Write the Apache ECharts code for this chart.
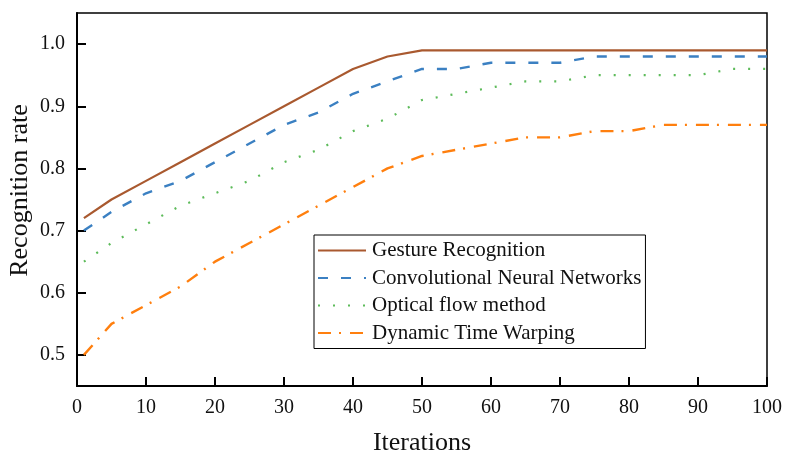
<!DOCTYPE html>
<html>
<head>
<meta charset="utf-8">
<script src="https://cdn.jsdelivr.net/npm/echarts@6/dist/echarts.min.js"></script>
<style>html,body{margin:0;padding:0;background:#fff;}#c{width:785px;height:460px;}</style>
</head>
<body>
<div id="c"></div>
<script>
var iterations = [1, 5, 10, 15, 20, 25, 30, 35, 40, 45, 50, 55, 60, 65, 70, 75, 80, 85, 90, 95, 100];
var gestureRecognition = [0.72, 0.75, 0.78, 0.81, 0.84, 0.87, 0.90, 0.93, 0.96, 0.98, 0.99, 0.99, 0.99, 0.99, 0.99, 0.99, 0.99, 0.99, 0.99, 0.99, 0.99];
var cnn = [0.70, 0.73, 0.76, 0.78, 0.81, 0.84, 0.87, 0.89, 0.92, 0.94, 0.96, 0.96, 0.97, 0.97, 0.97, 0.98, 0.98, 0.98, 0.98, 0.98, 0.98];
var opticalFlow = [0.65, 0.68, 0.71, 0.74, 0.76, 0.78, 0.81, 0.83, 0.86, 0.88, 0.91, 0.92, 0.93, 0.94, 0.94, 0.95, 0.95, 0.95, 0.95, 0.96, 0.96];
var dtw = [0.50, 0.55, 0.58, 0.61, 0.65, 0.68, 0.71, 0.74, 0.77, 0.80, 0.82, 0.83, 0.84, 0.85, 0.85, 0.86, 0.86, 0.87, 0.87, 0.87, 0.87];
var seriesNames = ['Gesture Recognition', 'Convolutional Neural Networks', 'Optical flow method', 'Dynamic Time Warping'];
var yTickValues = [0.5, 0.6, 0.7, 0.8, 0.9, 1.0];
var xAxisTitle = 'Iterations';
var yAxisTitle = 'Recognition rate';

function pairs(ys) { return iterations.map(function (x, i) { return [x, ys[i]]; }); }

var FONT = 'Liberation Serif';
var chart = echarts.init(document.getElementById('c'), null, { renderer: 'canvas' });
var colors = ['#A9592F', '#3B80C2', '#5DBB5A', '#FF7F0E'];
var dashTypes = ['solid', [10, 13], [2, 13], [13, 8, 2, 9]];
var widths = [2.2, 2.4, 2.2, 2.4];
var datas = [gestureRecognition, cnn, opticalFlow, dtw];

chart.setOption({
  animation: false,
  backgroundColor: '#fff',
  grid: { left: 77, right: 18, top: 13, bottom: 74, show: true, borderColor: '#000', borderWidth: 1.5, backgroundColor: 'transparent', outerBoundsMode: 'none', containLabel: false },
  legend: {
    data: seriesNames,
    orient: 'vertical',
    left: 314, top: 235,
    width: 335,
    padding: [5, 4, 5, 3],
    itemGap: 6.5,
    itemWidth: 48, itemHeight: 14,
    itemStyle: { opacity: 0 },
    borderColor: '#000', borderWidth: 1,
    textStyle: { fontFamily: FONT, fontSize: 21, color: '#111', lineHeight: 20, padding: [0, 0, 0, 1] }
  },
  xAxis: {
    type: 'value', min: 0, max: 100, interval: 10,
    name: xAxisTitle, nameLocation: 'middle', nameGap: 44,
    nameTextStyle: { fontFamily: FONT, fontSize: 26, color: '#111' },
    axisLine: { lineStyle: { color: '#000', width: 2 } },
    axisTick: { inside: true, length: 9, lineStyle: { color: '#000', width: 2 } },
    axisLabel: { fontFamily: FONT, fontSize: 20, color: '#111', margin: 12 },
    splitLine: { show: false }
  },
  yAxis: {
    type: 'value', min: 0.45, max: 1.05,
    name: yAxisTitle, nameLocation: 'middle', nameGap: 44, nameMoveOverlap: false,
    nameTextStyle: { fontFamily: FONT, fontSize: 26, color: '#111', padding: [0, 0, 0, 18] },
    axisLine: { lineStyle: { color: '#000', width: 2 } },
    axisTick: { inside: true, length: 9, lineStyle: { color: '#000', width: 2 }, customValues: yTickValues },
    axisLabel: { fontFamily: FONT, fontSize: 20, color: '#111', margin: 12, customValues: yTickValues, formatter: function (v) { return v.toFixed(1); } },
    splitLine: { show: false }
  },
  series: seriesNames.map(function (n, i) {
    return {
      name: n, type: 'line', data: pairs(datas[i]),
      symbol: 'none', showSymbol: false, smooth: false,
      color: colors[i],
      lineStyle: { color: colors[i], width: widths[i], type: dashTypes[i], cap: 'butt' }
    };
  })
});
</script>
</body>
</html>
